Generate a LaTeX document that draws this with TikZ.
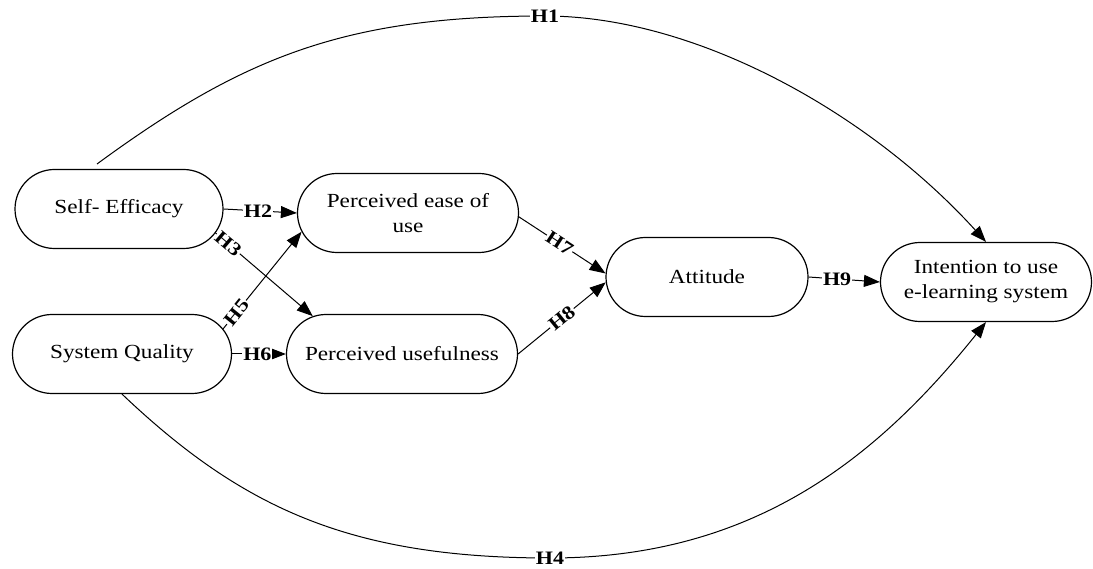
\documentclass[tikz,border=0pt]{standalone}
\usepackage{fontspec}
\setmainfont[FakeStretch=1.16]{Liberation Serif}
\usetikzlibrary{shapes.misc,arrows.meta}
\begin{document}
\begin{tikzpicture}[x=1pt,y=-1pt,
  box/.style={rounded rectangle, draw, line width=1.2pt, minimum height=79pt, inner sep=0pt, align=center, font=\fontsize{20}{25}\selectfont},
  link/.style={line width=1pt, -{Triangle[length=16pt,width=12pt]}},
  hlab/.style={fill=white, inner sep=1pt, font=\fontsize{19}{20}\selectfont\bfseries}]
\useasboundingbox (0,0) rectangle (1093,569);
\node[box, minimum width=208pt] (se) at (119,209) {Self- Efficacy};
\node[box, minimum width=219pt] (sq) at (122,354) {System Quality};
\node[box, minimum width=221pt] (peou) at (408,213) {Perceived ease of\\use};
\node[box, minimum width=231pt] (pu) at (402,354) {Perceived usefulness};
\node[box, minimum width=202pt] (att) at (707,277) {Attitude};
\node[box, minimum width=211pt] (int) at (986,282) {Intention to use\\e-learning system};
\draw[link] (se.east) -- node[hlab,pos=0.47]{H2} (peou.west);
\draw[link] (se.-14) -- node[hlab,sloped,pos=0.13]{H3} (pu.157);
\draw[link] (sq.14) -- node[hlab,sloped,pos=0.17]{H5} (peou.-170);
\draw[link] (sq.east) -- node[hlab,pos=0.47]{H6} (pu.west);
\draw[link] (peou.-2) -- node[hlab,sloped,pos=0.47]{H7} (att.178);
\draw[link] (pu.0) -- node[hlab,sloped,pos=0.5]{H8} (att.-177);
\draw[link] (att.east) -- node[hlab,pos=0.4]{H9} (int.west);
\coordinate (h1s) at (97,164);
\coordinate (h1m) at (545,16);
\coordinate (h4m) at (550,558);
\draw[link] (h1s) .. controls (243,57) and (345,16) .. (h1m) node[hlab]{H1}
  .. controls (695,16) and (868,112) .. (int.north);
\draw[link] (sq.south) .. controls (242,508) and (350,558) .. (h4m) node[hlab]{H4}
  .. controls (750,558) and (874,462) .. (int.south);
\end{tikzpicture}
\end{document}
